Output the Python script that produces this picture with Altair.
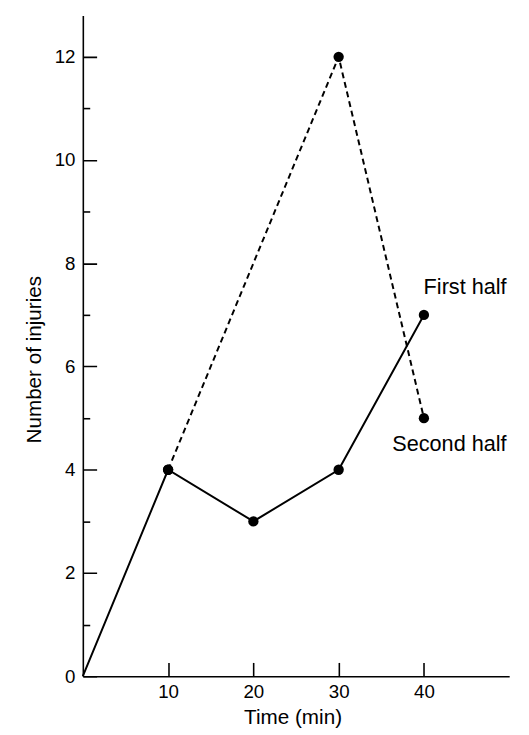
import altair as alt
import pandas as pd

# Data
first_time = [0, 10, 20, 30, 40]
first_injuries = [0, 4, 3, 4, 7]
second_time = [10, 30, 40]
second_injuries = [4, 12, 5]
label_text = ["First half", "Second half"]
label_time = [40, 40]
label_injuries = [7, 5]
x_ticks = [10, 20, 30, 40]
y_ticks = list(range(0, 13))

FONT = "Liberation Sans"

first = pd.DataFrame({"time": first_time, "injuries": first_injuries})
second = pd.DataFrame({"time": second_time, "injuries": second_injuries})
labels = pd.DataFrame({"text": label_text, "time": label_time, "injuries": label_injuries})

x_axis = alt.Axis(
    values=x_ticks,
    tickSize=alt.ExprRef(expr="-14"),
    labelPadding=21,
    labelFontSize=19,
    labelFont=FONT,
    labelColor="black",
    labelFlush=False,
    domainColor="black",
    domainWidth=1.6,
    tickColor="black",
    tickWidth=1.6,
    grid=False,
    title="Time (min)",
    titleFont=FONT,
    titleFontSize=21,
    titleFontWeight="normal",
    titleColor="black",
    titleX=213,
    titleY=48,
    titleBaseline="alphabetic",
)

y_axis = alt.Axis(
    values=y_ticks,
    tickSize=alt.ExprRef(expr="-14"),
    tickDash={"condition": {"test": "datum.value % 2 !== 0", "value": [7, 30]}, "value": [1, 0]},
    labelExpr="datum.value % 2 === 0 ? datum.label : ''",
    labelPadding=22,
    labelFontSize=19,
    labelFont=FONT,
    labelColor="black",
    labelFlush=False,
    domainColor="black",
    domainWidth=1.6,
    tickColor="black",
    tickWidth=1.6,
    grid=False,
    title="Number of injuries",
    titleFont=FONT,
    titleFontSize=21,
    titleFontWeight="normal",
    titleColor="black",
    titleX=-43,
    titleY=349,
    titleAngle=270,
    titleBaseline="alphabetic",
)

X = alt.X("time:Q", scale=alt.Scale(domain=[0, 50], nice=False, zero=False), axis=x_axis)
Y = alt.Y("injuries:Q", scale=alt.Scale(domain=[0, 12.8], nice=False, zero=False), axis=y_axis)

solid = alt.Chart(first).mark_line(color="black", strokeWidth=2).encode(x=X, y=Y)
dashed = alt.Chart(second).mark_line(color="black", strokeWidth=2, strokeDash=[6, 4]).encode(x=X, y=Y)
pts1 = alt.Chart(first).transform_filter("datum.time > 0").mark_circle(
    color="black", size=110, opacity=1
).encode(x=X, y=Y)
pts2 = alt.Chart(second).mark_circle(color="black", size=110, opacity=1).encode(x=X, y=Y)

lab1 = alt.Chart(labels).transform_filter("datum.text == 'First half'").mark_text(
    align="right", baseline="alphabetic", dx=84, dy=-21, font=FONT, fontSize=22, color="black"
).encode(x=X, y=Y, text="text:N")
lab2 = alt.Chart(labels).transform_filter("datum.text == 'Second half'").mark_text(
    align="right", baseline="alphabetic", dx=84, dy=33, font=FONT, fontSize=22, color="black"
).encode(x=X, y=Y, text="text:N")

chart = alt.layer(solid, dashed, pts1, pts2, lab1, lab2).properties(
    width=433,
    height=671,
    autosize=alt.AutoSizeParams(type="none"),
    padding={"left": 76, "top": 2, "right": 12, "bottom": 52},
    background="white",
).configure_view(stroke=None)

chart.save("out.html", embed_options={"renderer": "svg", "actions": False})
